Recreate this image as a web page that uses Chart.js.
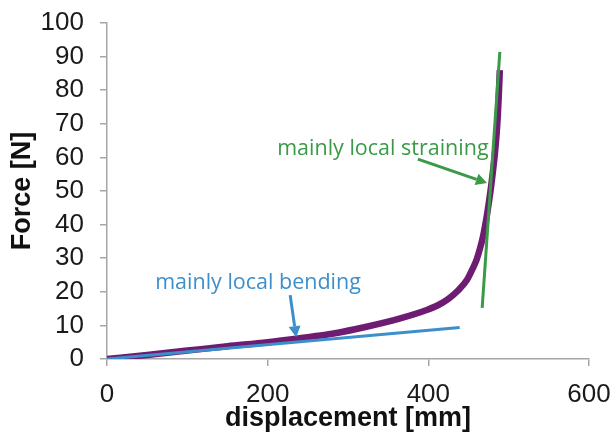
<!DOCTYPE html>
<html>
<head>
<meta charset="utf-8">
<script src="https://cdn.jsdelivr.net/npm/chart.js@4.4.0/dist/chart.umd.min.js"></script>
<style>
  html, body { margin: 0; padding: 0; background: #fff; }
  #wrap { width: 615px; height: 442px; }
</style>
</head>
<body>
<div id="wrap"><canvas id="chart" width="615" height="442"></canvas></div>
<script>
// measured force-displacement curve
const displacement = [0, 50, 100, 150, 200, 240, 282, 323, 365, 398, 412, 425, 437, 448, 455, 460, 464, 468, 472.6, 475.8, 478.5, 481, 483, 485, 486.5, 487.8, 489];
const force = [0, 1.2, 2.5, 3.8, 5.0, 6.2, 7.6, 9.6, 12.1, 14.6, 16.0, 17.9, 20.4, 23.5, 26.8, 29.5, 32.6, 36.4, 42.3, 47.3, 52.0, 57.0, 61.5, 67.0, 72.5, 79.0, 86.0];

// fitted tangents for the two regimes
const bendingX = [0, 439];
const bendingY = [0, 9.4];
const strainingX = [467, 489];
const strainingY = [15.2, 91.4];

// axis ticks
const xTicks = [0, 200, 400, 600];
const yTicks = [0, 10, 20, 30, 40, 50, 60, 70, 80, 90, 100];

// callout labels: text, label anchor, arrow tail, arrow head (data units)
const calloutText = ['mainly local bending', 'mainly local straining'];
const calloutLabelAt = [[188, 22.8], [475, 62.5]];
const calloutTail = [[228, 19], [387, 59.5]];
const calloutHead = [[235.5, 6.5], [473, 52.4]];
const calloutColor = ['#3d8fcb', '#3a9a47'];
const calloutAlign = ['center', 'right'];

const pts = (xs, ys) => xs.map((x, i) => ({ x: x, y: ys[i] }));

const callouts = {
    id: 'callouts',
    afterDatasetsDraw(chart) {
        const { ctx, scales: { x, y } } = chart;
        ctx.save();
        calloutText.forEach((txt, i) => {
            const col = calloutColor[i];
            ctx.fillStyle = col;
            ctx.strokeStyle = col;
            ctx.font = '21.5px "Open Sans", "Noto Sans", sans-serif';
            ctx.textAlign = calloutAlign[i];
            ctx.textBaseline = 'middle';
            ctx.fillText(txt, x.getPixelForValue(calloutLabelAt[i][0]), y.getPixelForValue(calloutLabelAt[i][1]));

            const x0 = x.getPixelForValue(calloutTail[i][0]);
            const y0 = y.getPixelForValue(calloutTail[i][1]);
            const x1 = x.getPixelForValue(calloutHead[i][0]);
            const y1 = y.getPixelForValue(calloutHead[i][1]);
            const ang = Math.atan2(y1 - y0, x1 - x0);
            const headLen = 11, headW = 6;
            const bx = x1 - headLen * Math.cos(ang);
            const by = y1 - headLen * Math.sin(ang);
            ctx.lineWidth = 3;
            ctx.beginPath();
            ctx.moveTo(x0, y0);
            ctx.lineTo(bx, by);
            ctx.stroke();
            ctx.beginPath();
            ctx.moveTo(x1, y1);
            ctx.lineTo(bx + headW * Math.sin(ang), by - headW * Math.cos(ang));
            ctx.lineTo(bx - headW * Math.sin(ang), by + headW * Math.cos(ang));
            ctx.closePath();
            ctx.fill();
        });
        ctx.restore();
    }
};

const axisColor = '#a6a6a6';
const tickFont = { family: '"Liberation Sans", Arial, sans-serif', size: 26 };
const titleFont = { family: '"Liberation Sans", Arial, sans-serif', size: 27, weight: 'bold' };

new Chart(document.getElementById('chart'), {
    type: 'scatter',
    data: {
        datasets: [
            {
                label: 'curve',
                data: pts(displacement, force),
                showLine: true,
                borderColor: '#6e1c72',
                borderWidth: 6.5,
                pointRadius: 0,
                cubicInterpolationMode: 'monotone',
                order: 2
            },
            {
                label: 'bending',
                data: pts(bendingX, bendingY),
                showLine: true,
                borderColor: '#3d8fcb',
                borderWidth: 3,
                pointRadius: 0,
                order: 1
            },
            {
                label: 'straining',
                data: pts(strainingX, strainingY),
                showLine: true,
                borderColor: '#3a9a47',
                borderWidth: 3,
                pointRadius: 0,
                order: 1
            }
        ]
    },
    options: {
        responsive: false,
        animation: false,
        layout: { padding: { top: 23, right: 26, left: 0, bottom: 0 } },
        plugins: {
            legend: { display: false },
            tooltip: { enabled: false }
        },
        scales: {
            x: {
                type: 'linear',
                min: 0,
                max: 600,
                afterBuildTicks: (s) => { s.ticks = xTicks.map(v => ({ value: v })); },
                afterFit: (s) => { s.height = 83; s.paddingLeft = 0; s.paddingRight = 0; },
                grid: { drawOnChartArea: false, color: axisColor, tickLength: 7, lineWidth: 1.5 },
                border: { color: axisColor, width: 1.5 },
                ticks: { color: '#1a1a1a', font: tickFont, padding: 13, maxRotation: 0, autoSkip: false },
                title: { display: true, text: 'displacement [mm]', color: '#111', font: titleFont, padding: { top: 0, bottom: 7 } }
            },
            y: {
                type: 'linear',
                min: 0,
                max: 100,
                afterBuildTicks: (s) => { s.ticks = yTicks.map(v => ({ value: v })); },
                afterFit: (s) => { s.width = 107; s.paddingTop = 0; s.paddingBottom = 0; },
                grid: { drawOnChartArea: false, color: axisColor, tickLength: 7, lineWidth: 1.5 },
                border: { color: axisColor, width: 1.5 },
                ticks: { color: '#1a1a1a', font: tickFont, padding: 16, autoSkip: false },
                title: { display: true, text: 'Force [N]', color: '#111', font: titleFont, padding: { top: 6, bottom: 0 } }
            }
        }
    },
    plugins: [callouts]
});
</script>
</body>
</html>
